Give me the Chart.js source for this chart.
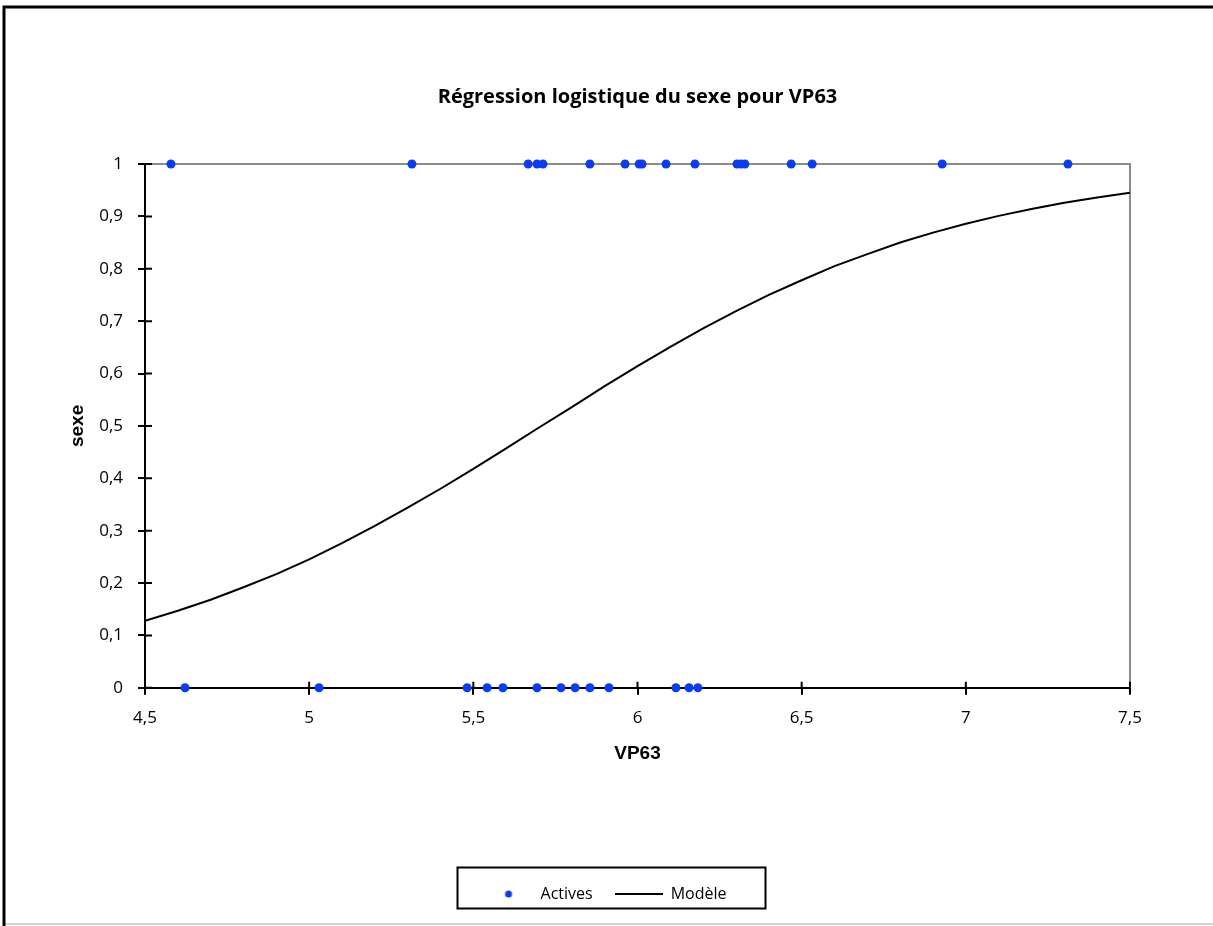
<!DOCTYPE html>
<html>
<head>
<meta charset="utf-8">
<script src="https://cdn.jsdelivr.net/npm/chart.js@4/dist/chart.umd.min.js"></script>
<style>
  body { margin: 0; background: #fff; }
  canvas { display: block; }
</style>
</head>
<body>
<canvas id="logitChart" width="1213" height="926"></canvas>
<script>
// observed points (sexe = 0 / 1)
var activesX = [4.579, 5.313, 5.667, 5.694, 5.712, 5.855, 5.962, 6.005, 6.014, 6.087, 6.175, 6.303, 6.315, 6.327, 6.468, 6.532, 6.928, 7.311,
                4.622, 5.030, 5.481, 5.542, 5.590, 5.694, 5.767, 5.810, 5.855, 5.913, 6.117, 6.157, 6.184];
var activesY = [1, 1, 1, 1, 1, 1, 1, 1, 1, 1, 1, 1, 1, 1, 1, 1, 1, 1,
                0, 0, 0, 0, 0, 0, 0, 0, 0, 0, 0, 0, 0];

// fitted model curve
var modelX = [4.5, 4.6, 4.7, 4.8, 4.9, 5.0, 5.1, 5.2, 5.3, 5.4, 5.5, 5.6, 5.7, 5.8, 5.9, 6.0,
              6.1, 6.2, 6.3, 6.4, 6.5, 6.6, 6.7, 6.8, 6.9, 7.0, 7.1, 7.2, 7.3, 7.4, 7.5];
var modelY = [0.128, 0.147, 0.168, 0.192, 0.217, 0.245, 0.276, 0.309, 0.344, 0.380, 0.418, 0.457, 0.497, 0.536, 0.576, 0.614,
              0.651, 0.686, 0.719, 0.750, 0.778, 0.805, 0.828, 0.850, 0.869, 0.886, 0.901, 0.914, 0.926, 0.936, 0.945];

var xTickLabels = ['4,5', '5', '5,5', '6', '6,5', '7', '7,5'];
var yTickLabels = ['0', '0,1', '0,2', '0,3', '0,4', '0,5', '0,6', '0,7', '0,8', '0,9', '1'];

var DOT_COLOR = '#0b3cf5';

// small images used as legend symbols
var dotIcon = document.createElement('canvas');
dotIcon.width = 10; dotIcon.height = 10;
var dctx = dotIcon.getContext('2d');
dctx.fillStyle = DOT_COLOR;
dctx.beginPath(); dctx.arc(5, 5, 3.5, 0, Math.PI * 2); dctx.fill();

var lineIcon = document.createElement('canvas');
lineIcon.width = 48; lineIcon.height = 4;
var lctx = lineIcon.getContext('2d');
lctx.fillStyle = '#000';
lctx.fillRect(0, 1, 48, 2);

var framePlugin = {
    id: 'frame',
    afterLayout: function (chart) {
        var a = chart.chartArea;
        if (chart.titleBlock) {
            chart.titleBlock.left = a.left;
            chart.titleBlock.right = a.right;
            chart.titleBlock.width = a.right - a.left;
        }
        var lg = chart.legend;
        var cx = (a.left + a.right) / 2 - 26;
        lg.left = cx - 154 - 6;
        lg.right = cx + 154 - 6;
        lg.width = 308;
        lg._boxCenter = cx;
    },
    beforeDraw: function (chart) {
        var ctx = chart.ctx, w = chart.width, h = chart.height;
        ctx.save();
        ctx.fillStyle = '#fff';
        ctx.fillRect(0, 0, w, h);
        ctx.strokeStyle = '#d4d4d4';
        ctx.lineWidth = 2;
        ctx.beginPath(); ctx.moveTo(4, h - 2); ctx.lineTo(w, h - 2); ctx.stroke();
        ctx.strokeStyle = '#000';
        ctx.lineWidth = 3;
        ctx.beginPath(); ctx.moveTo(4, h); ctx.lineTo(4, 7); ctx.lineTo(w, 7); ctx.stroke();
        ctx.restore();
    },
    beforeDatasetsDraw: function (chart) {
        var ctx = chart.ctx, a = chart.chartArea;
        var xs = chart.scales.x, ys = chart.scales.y;
        ctx.save();
        // grey top / right frame of the plot area
        ctx.strokeStyle = '#8c8c8c';
        ctx.lineWidth = 2;
        ctx.beginPath();
        ctx.moveTo(a.left, a.top); ctx.lineTo(a.right, a.top); ctx.lineTo(a.right, a.bottom);
        ctx.stroke();
        // inner half of the cross tick marks
        ctx.strokeStyle = '#000';
        ctx.beginPath();
        xs.ticks.forEach(function (t, i) {
            var px = xs.getPixelForTick(i);
            ctx.moveTo(px, a.bottom); ctx.lineTo(px, a.bottom - 6);
        });
        ys.ticks.forEach(function (t, i) {
            var py = ys.getPixelForTick(i);
            ctx.moveTo(a.left, py); ctx.lineTo(a.left + 7, py);
        });
        ctx.stroke();
        ctx.restore();
    },
    afterDraw: function (chart) {
        var ctx = chart.ctx, lg = chart.legend;
        var cy = lg.top + lg.height / 2;
        ctx.save();
        ctx.strokeStyle = '#000';
        ctx.lineWidth = 2;
        ctx.strokeRect(lg._boxCenter - 154, cy - 20.5, 308, 41);
        ctx.restore();
    }
};

var ctx = document.getElementById('logitChart').getContext('2d');

new Chart(ctx, {
    type: 'scatter',
    data: {
        datasets: [
            {
                label: 'Actives',
                data: activesX.map(function (x, i) { return { x: x, y: activesY[i] }; }),
                backgroundColor: DOT_COLOR,
                borderWidth: 0,
                pointRadius: 4.5,
                clip: false
            },
            {
                label: 'Modèle',
                data: modelX.map(function (x, i) { return { x: x, y: modelY[i] }; }),
                showLine: true,
                borderColor: '#000',
                borderWidth: 2,
                pointRadius: 0,
                tension: 0
            }
        ]
    },
    options: {
        responsive: false,
        animation: false,
        layout: { padding: { left: 10, right: 83, top: 0, bottom: 14 } },
        plugins: {
            title: {
                display: true,
                text: 'Régression logistique du sexe pour VP63',
                color: '#000',
                font: { family: 'Open Sans', size: 20, weight: 'bold' },
                padding: { top: 85, bottom: 55 }
            },
            legend: {
                position: 'bottom',
                labels: {
                    usePointStyle: true,
                    pointStyleWidth: 48,
                    padding: 22,
                    color: '#000',
                    font: { family: 'Open Sans', size: 16 },
                    generateLabels: function () {
                        return [
                            { text: 'Actives', pointStyle: dotIcon, fillStyle: DOT_COLOR, strokeStyle: DOT_COLOR, lineWidth: 0, datasetIndex: 0 },
                            { text: 'Modèle', pointStyle: lineIcon, fillStyle: '#000', strokeStyle: '#000', lineWidth: 0, datasetIndex: 1 }
                        ];
                    }
                }
            },
            tooltip: { enabled: false }
        },
        scales: {
            x: {
                type: 'linear',
                min: 4.5,
                max: 7.5,
                grid: { drawOnChartArea: false, color: '#000', lineWidth: 2, tickLength: 7 },
                border: { color: '#000', width: 2 },
                ticks: {
                    stepSize: 0.5,
                    autoSkip: false,
                    maxRotation: 0,
                    padding: 13,
                    color: '#000',
                    font: { family: 'Open Sans', size: 17 },
                    callback: function (v, i) { return xTickLabels[i]; }
                },
                title: {
                    display: true,
                    text: 'VP63',
                    color: '#000',
                    font: { family: 'Liberation Sans', size: 19, weight: 'bold' },
                    padding: { top: 1, bottom: 99 }
                }
            },
            y: {
                min: 0,
                max: 1,
                grid: { drawOnChartArea: false, color: '#000', lineWidth: 2, tickLength: 7 },
                border: { color: '#000', width: 2 },
                ticks: {
                    stepSize: 0.1,
                    autoSkip: false,
                    padding: 15,
                    color: '#000',
                    font: { family: 'Open Sans', size: 17 },
                    callback: function (v, i) { return yTickLabels[i]; }
                },
                title: {
                    display: true,
                    text: 'sexe',
                    color: '#000',
                    font: { family: 'Liberation Sans', size: 19, weight: 'bold' },
                    padding: { top: 56, bottom: 0 }
                },
                afterFit: function (scale) { scale.width = 135; }
            }
        }
    },
    plugins: [framePlugin]
});
</script>
</body>
</html>
